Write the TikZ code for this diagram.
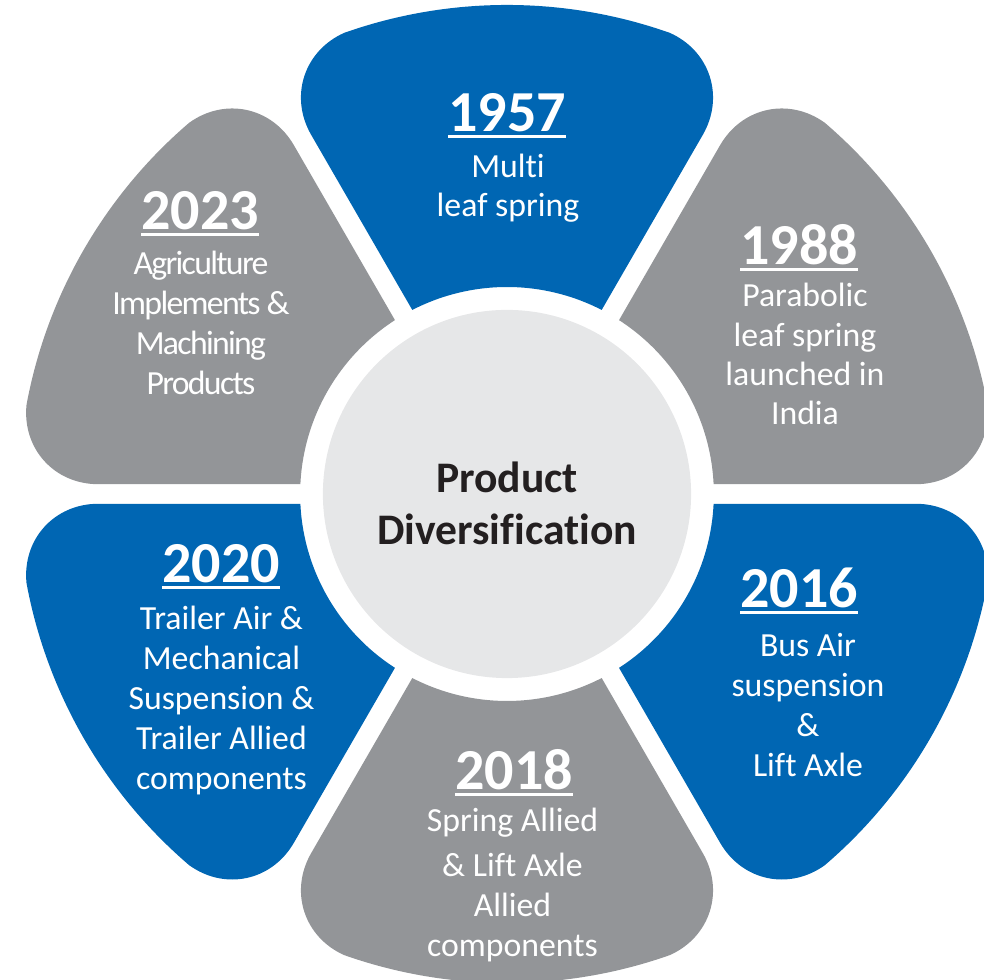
\documentclass[tikz,border=0pt]{standalone}
\usepackage{fontspec}
\setmainfont{Carlito}[Ligatures=NoCommon]
\usepackage{tikz}
\definecolor{petalblue}{RGB}{0,102,179}
\definecolor{petalgray}{RGB}{147,149,152}
\definecolor{hubgray}{RGB}{230,231,232}
\definecolor{hubink}{RGB}{35,31,32}
% underlined year
\newcommand\yrline[1]{\setbox0=\hbox{#1}\rlap{\rule[-1.8pt]{\wd0}{0.8pt}}\box0}
\tikzset{
    %Define style for the centre circle
    hub/.style={
           circle,
           fill=hubgray,
           minimum size=3.68cm,
           inner sep=0pt},
    hubtext/.style={
           anchor=base,
           inner sep=0pt,
           text=hubink,
           font=\fontsize{12.4}{15}\selectfont\bfseries},
    % Define style for the years and texts
    yearlabel/.style={
           anchor=base,
           inner sep=0pt,
           text=white,
           font=\fontsize{16.5}{19}\selectfont\bfseries},
    bodytext/.style={
           anchor=base,
           inner sep=0pt,
           text=white,
           font=\fontsize{9.6}{11.5}\selectfont},
    tighttext/.style={
           bodytext,
           font=\fontsize{9.6}{11.5}\selectfont\addfontfeatures{LetterSpace=-5}}
}
% one petal, pointing at angle #1
\newcommand\petal[2]{%
  \begin{scope}[rotate=#1-90]
  \fill[#2] (94.7,184.05) -- (195.8,359.1)
     .. controls (217.9,397.4) and (203.1,443.0) .. (162.9,461.1)
     arc[start angle=70.54, end angle=109.46, radius=489]
     .. controls (-203.1,443.0) and (-217.9,397.4) .. (-195.8,359.1)
     -- (-94.7,184.05)
     arc[start angle=117.23, end angle=62.77, radius=207] -- cycle;
  \end{scope}}
\begin{document}
\begin{tikzpicture}[scale=0.01]
\useasboundingbox (-507,-486) rectangle (477,494);
\clip (-507,-486) rectangle (477,494);
\foreach \ang/\col in {90/petalblue,30/petalgray,-30/petalblue,-90/petalgray,-150/petalblue,150/petalgray}
  \petal{\ang}{\col};
\node[hub] (hub) at (0,0) {};
\node[hubtext] (prod) at (0,1) {Product};
\node[hubtext] (div) at (0,-51) {Diversification};
% 1957
\node[yearlabel] (y1957) at (0,362) {\yrline{1957}};
\foreach \yy/\tx [count=\i] in {316/Multi,277/leaf spring}
  \node[bodytext] (t1957-\i) at (1,\yy) {\tx};
% 1988
\node[yearlabel] (y1988) at (292,229) {\yrline{1988}};
\foreach \yy/\tx [count=\i] in {187/Parabolic,147/leaf spring,108/launched in,69/India}
  \node[bodytext] (t1988-\i) at (298,\yy) {\tx};
% 2016
\node[yearlabel] (y2016) at (292,-114) {\yrline{2016}};
\foreach \yy/\tx [count=\i] in {-163/Bus Air,-203/suspension,-243/\&,-283/Lift Axle}
  \node[bodytext] (t2016-\i) at (301,\yy) {\tx};
% 2018
\node[yearlabel] (y2018) at (7,-296) {\yrline{2018}};
\foreach \yy/\tx [count=\i] in {-338/Spring Allied,-383/\& Lift Axle,-423/Allied,-463/components}
  \node[bodytext] (t2018-\i) at (5.5,\yy) {\tx};
% 2020
\node[yearlabel] (y2020) at (-286,-89) {\yrline{2020}};
\foreach \yy/\tx [count=\i] in {-136/Trailer Air \&,-176/Mechanical,-216/Suspension \&,-256/Trailer Allied,-296/components}
  \node[bodytext] (t2020-\i) at (-285.5,\yy) {\tx};
% 2023
\node[yearlabel] (y2023) at (-307,264) {\yrline{2023}};
\foreach \yy/\tx [count=\i] in {219/Agriculture,179/Implements \&,139/Machining,99/Products}
  \node[tighttext] (t2023-\i) at (-306,\yy) {\tx};
\end{tikzpicture}
\end{document}
